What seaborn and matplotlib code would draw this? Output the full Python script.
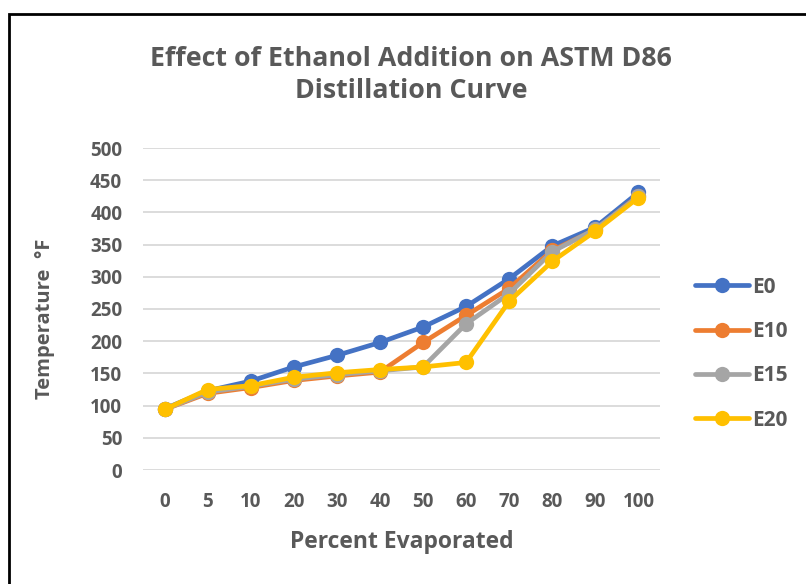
import numpy as np
import pandas as pd
import seaborn as sns
import matplotlib.pyplot as plt
from matplotlib.patches import Rectangle

pct_evap = ['0', '5', '10', '20', '30', '40', '50', '60', '70', '80', '90', '100']
E0 = [95, 123, 138, 160, 178, 198, 222, 254, 297, 348, 377, 431]
E10 = [94, 119, 128, 139, 146, 152, 198, 240, 282, 341, 373, 426]
E15 = [94, 121, 130, 141, 148, 154, 160, 227, 274, 339, 374, 425]
E20 = [94, 125, 131, 144, 151, 156, 160, 167, 262, 324, 371, 423]
blends = ['E0', 'E10', 'E15', 'E20']
colors = ['#4472C4', '#ED7D31', '#A5A5A5', '#FFC000']

rows = []
for name, vals in zip(blends, [E0, E10, E15, E20]):
    for i, v in enumerate(vals):
        rows.append({'pos': i, 'temp': v, 'blend': name})
df = pd.DataFrame(rows)

sns.set_style('white')
plt.rcParams['font.family'] = ['Open Sans', 'DejaVu Sans']
grey = '#595959'

fig = plt.figure(figsize=(8.06, 5.84), dpi=100)
ax = fig.add_axes([143/806, 1 - 470/584, 517/806, 322/584])

sns.lineplot(data=df, x='pos', y='temp', hue='blend', palette=colors,
             marker='o', markersize=11, markeredgewidth=0, linewidth=3.4,
             sort=False, legend=False, ax=ax)

ax.set_xlim(-0.5, 11.5)
ax.set_ylim(0, 500)
ax.set_yticks(range(0, 501, 50))
ax.set_xticks(range(len(pct_evap)))
ax.set_xticklabels(pct_evap)
ax.grid(axis='y', color='#D9D9D9', linewidth=1.3)
ax.set_axisbelow(True)
for s in ax.spines.values():
    s.set_visible(False)
ax.tick_params(axis='both', length=0, labelsize=13.5, colors=grey)
ax.tick_params(axis='y', pad=15)
ax.tick_params(axis='x', pad=16)
for lab in ax.get_xticklabels() + ax.get_yticklabels():
    lab.set_fontweight('bold')

ax.set_xlabel('Percent Evaporated', fontsize=16.5, fontweight='bold', color=grey, labelpad=13)
ax.set_ylabel('Temperature  °F', fontsize=14.5, fontweight='bold', color=grey)
ax.yaxis.set_label_coords(-0.17, 0.47)

fig.text(411/806, 1 - 75/584, 'Effect of Ethanol Addition on ASTM D86\nDistillation Curve',
         ha='center', va='center', fontsize=19.3, fontweight='bold', color=grey,
         linespacing=1.3)

handles = [plt.Line2D([], [], color=c, linewidth=3.4, marker='o', markersize=11,
                      markeredgewidth=0) for c in colors]
leg = fig.legend(handles, blends, loc='upper left',
                 bbox_to_anchor=(676/806, 1 - 258/584), frameon=False,
                 handlelength=2.6, handletextpad=0.15, labelspacing=1.12,
                 prop={'size': 15, 'weight': 'bold'})
for t in leg.get_texts():
    t.set_color(grey)

fig.patches.append(Rectangle((9/806, -0.1), 1.2, 1 - 14/584 + 0.1, transform=fig.transFigure,
                             fill=False, edgecolor='black', linewidth=2))

fig.savefig('out.png', dpi=100)
